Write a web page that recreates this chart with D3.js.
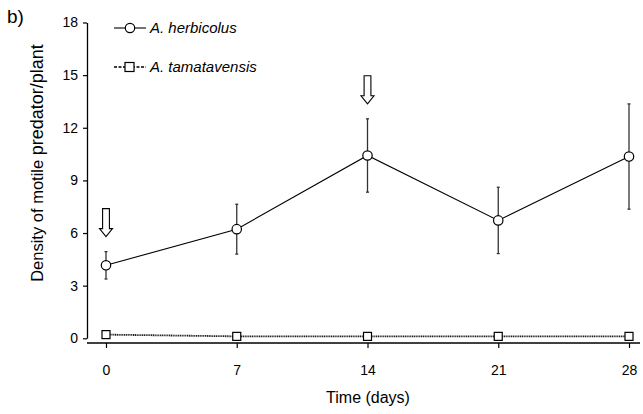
<!DOCTYPE html>
<html>
<head>
<meta charset="utf-8">
<script src="https://cdn.jsdelivr.net/npm/d3@7"></script>
<style>
  html, body { margin: 0; padding: 0; background: #fff; }
  svg { display: block; font-family: "Liberation Sans", Arial, sans-serif; }
</style>
</head>
<body>
<svg id="chart" width="643" height="414"></svg>
<script>
// Sampling days
const days = [0, 7, 14, 21, 28];
// A. herbicolus: mean density per plant and standard error
const herbMean = [4.16, 6.22, 10.42, 6.72, 10.36];
const herbSE = [0.78, 1.42, 2.09, 1.89, 3.0];
// A. tamatavensis: mean density per plant
const tamaMean = [0.21, 0.11, 0.11, 0.11, 0.11];
// Axis ticks
const yTicks = [0, 3, 6, 9, 12, 15, 18];
const xTicks = [0, 7, 14, 21, 28];
// Release events marked with arrows
const releaseDays = [0, 14];

const svg = d3.select("#chart");

const x = d3.scaleLinear().domain([0, 28]).range([106, 629]);
const y = d3.scaleLinear().domain([0, 18]).range([338.3, 22.5]);

const yAxisX = 87;
const xAxisY = 343;
const font = "Liberation Sans, Arial, sans-serif";

// Y axis (offset style, ends at 0)
const yAxis = d3.axisLeft(y).tickValues(yTicks).tickSize(4).tickPadding(5).tickSizeOuter(0);
const gy = svg.append("g").attr("transform", `translate(${yAxisX},0)`).call(yAxis);
gy.select(".domain").attr("stroke", "#000").attr("stroke-width", 1.3);
gy.selectAll(".tick line").attr("stroke", "#000").attr("stroke-width", 1.2);
gy.selectAll(".tick text").attr("font-size", 14).attr("fill", "#000").attr("font-family", font);

// X axis
const xAxis = d3.axisBottom(x).tickValues(xTicks).tickSize(5).tickPadding(17).tickSizeOuter(0);
const gx = svg.append("g").attr("transform", `translate(0,${xAxisY})`).call(xAxis);
gx.select(".domain").attr("d", `M${yAxisX},0H640`).attr("stroke", "#000").attr("stroke-width", 1.3);
gx.selectAll(".tick line").attr("stroke", "#000").attr("stroke-width", 1.2);
gx.selectAll(".tick text").attr("font-size", 14).attr("fill", "#000").attr("font-family", font);

// Axis titles
svg.append("text")
  .attr("x", 368).attr("y", 403)
  .attr("text-anchor", "middle")
  .attr("font-size", 16)
  .text("Time (days)");

const yl = svg.append("text")
  .attr("transform", "translate(43,163) rotate(-90)")
  .attr("text-anchor", "middle");
yl.append("tspan").attr("font-size", 16.5).text("Density of motile ");
yl.append("tspan").attr("font-size", 18).text("predator/plant");

// Panel letter
svg.append("text").attr("x", 7).attr("y", 23).attr("font-size", 19).text("b)");

// A. tamatavensis line (dotted, near zero)
const tamaData = days.map((d, i) => ({ d, v: tamaMean[i] }));
const line = d3.line().x(p => x(p.d)).y(p => y(p.v));
svg.append("path").datum(tamaData)
  .attr("d", line)
  .attr("fill", "none")
  .attr("stroke", "#222")
  .attr("stroke-width", 1.8)
  .attr("stroke-dasharray", "1.2 0.6");

// A. herbicolus error bars
const herbData = days.map((d, i) => ({ d, v: herbMean[i], se: herbSE[i] }));
const eb = svg.append("g").attr("stroke", "#333").attr("stroke-width", 1.3);
herbData.forEach(p => {
  eb.append("line").attr("x1", x(p.d)).attr("x2", x(p.d))
    .attr("y1", y(p.v - p.se)).attr("y2", y(p.v + p.se));
  [p.v - p.se, p.v + p.se].forEach(v => {
    eb.append("line").attr("x1", x(p.d) - 1.5).attr("x2", x(p.d) + 1.5)
      .attr("y1", y(v)).attr("y2", y(v));
  });
});

// A. herbicolus line
svg.append("path").datum(herbData)
  .attr("d", line)
  .attr("fill", "none")
  .attr("stroke", "#000")
  .attr("stroke-width", 1.1);

// Markers
svg.append("g").selectAll("circle").data(herbData).join("circle")
  .attr("cx", p => x(p.d)).attr("cy", p => y(p.v)).attr("r", 4.7)
  .attr("fill", "#fff").attr("stroke", "#000").attr("stroke-width", 1.2);

svg.append("g").selectAll("rect").data(tamaData).join("rect")
  .attr("x", p => x(p.d) - 4).attr("y", p => y(p.v) - 4)
  .attr("width", 8).attr("height", 8)
  .attr("fill", "#fff").attr("stroke", "#000").attr("stroke-width", 1.2);

// Release arrows above the series
function arrowPath(cx, tipY) {
  const len = 28, head = 8, sw = 3.4, hw = 6.5;
  const top = tipY - len, neck = tipY - head;
  return `M${cx - sw},${top}H${cx + sw}V${neck}H${cx + hw}L${cx},${tipY}L${cx - hw},${neck}H${cx - sw}Z`;
}
releaseDays.forEach(d => {
  const i = days.indexOf(d);
  const tip = y(herbMean[i] + herbSE[i]) - 15;
  svg.append("path").attr("d", arrowPath(x(d), tip))
    .attr("fill", "#fff").attr("stroke", "#000").attr("stroke-width", 1.1);
});

// Legend
const legend = [
  { label: "A. herbicolus", shape: "circle", y: 28, dash: null },
  { label: "A. tamatavensis", shape: "square", y: 67, dash: "3 1.5" }
];
legend.forEach(l => {
  const g = svg.append("g");
  g.append("line").attr("x1", 114).attr("x2", 146).attr("y1", l.y).attr("y2", l.y)
    .attr("stroke", "#000").attr("stroke-width", l.dash ? 1.6 : 1.1)
    .attr("stroke-dasharray", l.dash);
  if (l.shape === "circle") {
    g.append("circle").attr("cx", 130).attr("cy", l.y).attr("r", 4.7)
      .attr("fill", "#fff").attr("stroke", "#000").attr("stroke-width", 1.2);
  } else {
    g.append("rect").attr("x", 125).attr("y", l.y - 4.5).attr("width", 9).attr("height", 9)
      .attr("fill", "#fff").attr("stroke", "#000").attr("stroke-width", 1.2);
  }
  g.append("text").attr("x", 150).attr("y", l.y + 5)
    .attr("font-size", 15).attr("font-style", "italic").text(l.label);
});
</script>
</body>
</html>
